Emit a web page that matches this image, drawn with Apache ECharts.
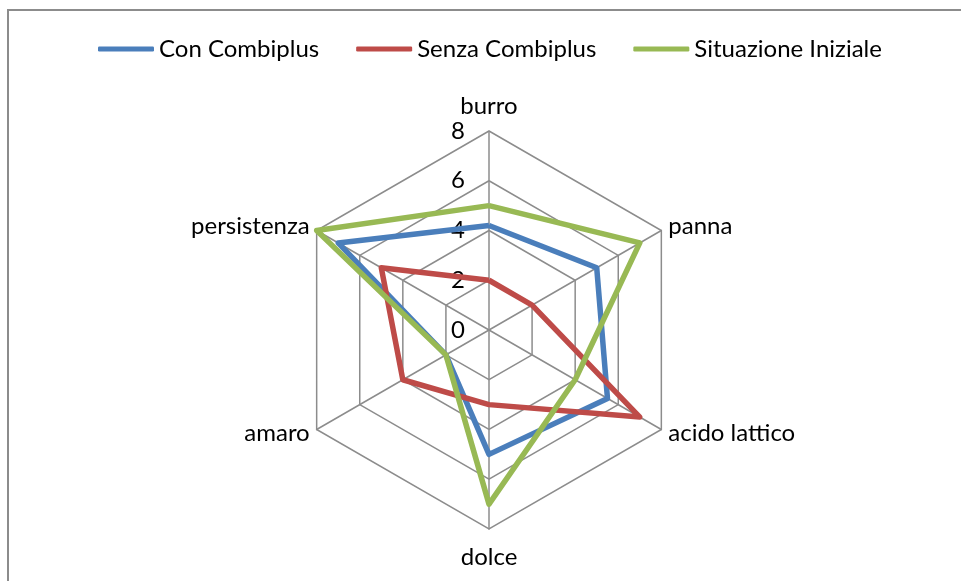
<!DOCTYPE html>
<html>
<head>
<meta charset="utf-8">
<script src="https://cdn.jsdelivr.net/npm/echarts@6/dist/echarts.min.js"></script>
<style>
  html, body { margin: 0; padding: 0; background: #fff; overflow: hidden; }
  #frame { position: absolute; left: 7px; top: 9px; width: 1000px; height: 700px; border: 2px solid #8c8c8c; }
  #main { position: absolute; left: 0; top: 0; width: 961px; height: 581px; }
</style>
</head>
<body>
<div id="frame"></div>
<div id="main"></div>
<script>
// indicatori in ordine orario partendo dall'alto (echarts li dispone in senso antiorario)
const indicators = ['burro', 'persistenza', 'amaro', 'dolce', 'acido lattico', 'panna'];
const nameGaps = [25, 8, 8, 28, 8, 8];
const conCombiplus = [4.2, 7, 2, 5, 5.5, 5];
const senzaCombiplus = [2, 5, 4, 3, 7, 2];
const situazioneIniziale = [5, 8, 2, 7, 4, 7];
const seriesNames = ['Con Combiplus', 'Senza Combiplus', 'Situazione Iniziale'];
const colors = ['#4a7ebb', '#be4b48', '#98b954'];

const font = 'Lato';
const chart = echarts.init(document.getElementById('main'), null, { renderer: 'canvas' });

const values = [conCombiplus, senzaCombiplus, situazioneIniziale];

chart.setOption({
  animation: false,
  color: colors,
  legend: {
    left: 93,
    top: 32,
    icon: 'roundRect',
    itemWidth: 56,
    itemHeight: 5,
    itemGap: 37,
    textStyle: { fontFamily: font, fontSize: 24, color: '#000' },
    data: seriesNames
  },
  radar: {
    center: [489, 330],
    radius: 199,
    shape: 'polygon',
    splitNumber: 4,
    startAngle: 90,
    axisName: {
      color: '#000',
      fontFamily: font,
      fontSize: 24,
      verticalAlign: 'middle'
    },
    axisLine: { lineStyle: { color: '#8c8c8c', width: 1.5 } },
    splitLine: { lineStyle: { color: '#8c8c8c', width: 1.5 } },
    splitArea: { show: false },
    axisLabel: {
      show: false,
      fontFamily: font,
      fontSize: 24,
      color: '#000',
      margin: 24
    },
    indicator: indicators.map(function (n, i) {
      return {
        name: n,
        min: 0,
        max: 8,
        nameGap: nameGaps[i],
        axisLabel: { show: i === 0 }
      };
    })
  },
  series: [{
    type: 'radar',
    symbol: 'none',
    data: seriesNames.map(function (s, i) {
      return {
        name: s,
        value: values[i],
        lineStyle: { width: 5.5, color: colors[i] },
        itemStyle: { color: colors[i] }
      };
    })
  }]
});
</script>
</body>
</html>
